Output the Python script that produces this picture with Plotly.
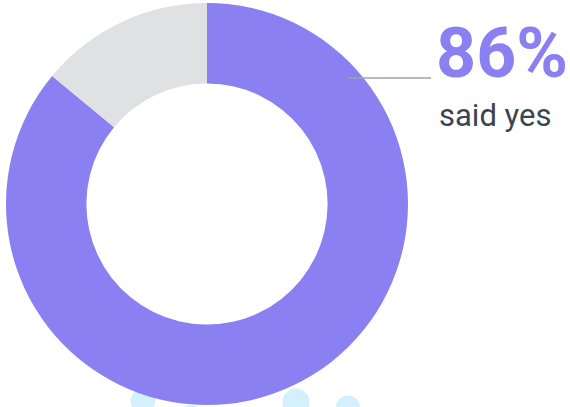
import plotly.graph_objects as go

W, H = 570, 407

labels = ["Yes", "No"]
values = [86, 14]
colors = ["#8a80f2", "#e0e1e3"]
headline = "86%"
subtitle = "said yes"

# decorative light-blue bubbles at the bottom (pixel centre x, centre y, radius)
bubble_x = [143, 191, 296, 348]
bubble_y = [401, 419, 402, 408]
bubble_r = [12.5, 14, 13.5, 12.5]

fig = go.Figure()
fig.add_trace(go.Pie(
    labels=labels, values=values, sort=False, direction="clockwise", rotation=0,
    hole=0.60, marker=dict(colors=colors, line=dict(width=0)),
    textinfo="none", hoverinfo="label+percent", showlegend=False,
    domain=dict(x=[5 / W, 409 / W], y=[1 - 405 / H, 1 - 3 / H]),
))

shapes = []
for cx, cy, r in zip(bubble_x, bubble_y, bubble_r):
    shapes.append(dict(type="circle", xref="paper", yref="paper", layer="below",
                       x0=(cx - r) / W, x1=(cx + r) / W,
                       y0=1 - (cy + r) / H, y1=1 - (cy - r) / H,
                       fillcolor="#d3f0fc", line=dict(width=0)))
shapes.append(dict(type="line", xref="paper", yref="paper", layer="above",
                   x0=348 / W, x1=431 / W, y0=1 - 78 / H, y1=1 - 78 / H,
                   line=dict(color="#9ea3ab", width=1.5)))

fig.update_layout(
    width=W, height=H, margin=dict(l=0, r=0, t=0, b=0),
    paper_bgcolor="white", plot_bgcolor="white",
    shapes=shapes,
    annotations=[
        dict(text="<b>" + headline + "</b>", xref="paper", yref="paper",
             x=434 / W, y=1 - 53 / H, xanchor="left", yanchor="middle", showarrow=False,
             font=dict(family="Roboto", size=70, color="#8a80f2")),
        dict(text=subtitle, xref="paper", yref="paper",
             x=437 / W, y=1 - 115 / H, xanchor="left", yanchor="middle", showarrow=False,
             font=dict(family="Roboto", size=31, color="#3a4550")),
    ],
)

fig.write_html("out.html", config={"displayModeBar": False},
               post_script="document.body.style.margin='0';document.body.style.padding='0';"
                           "document.body.style.overflow='hidden';")
